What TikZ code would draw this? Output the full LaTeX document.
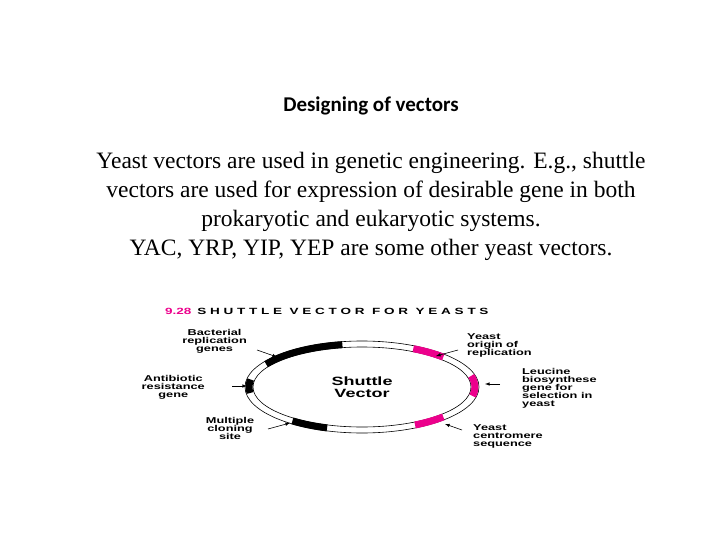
\documentclass[tikz,border=0pt]{standalone}
\usepackage{fontspec}
\setmainfont{Liberation Serif}
\newfontfamily\calfnt{Carlito}
\newfontfamily\widefnt[FakeStretch=1.5]{Liberation Sans}
\begin{document}
\begin{tikzpicture}[x=1pt,y=-1pt,
 lbl/.style={font=\widefnt\bfseries\fontsize{8.5}{8}\selectfont,inner sep=0pt,align=center},
 arr/.style={-latex,line width=0.6pt},
 seg/.style={line width=7pt,line cap=butt}]
\useasboundingbox (0,0) rectangle (720,540);
\node[font=\calfnt\bfseries\fontsize{21}{24}\selectfont] (h) at (371,106) {Designing of vectors};
\node[font=\fontsize{23.5}{29}\selectfont,align=center] (t) at (371,206) {Yeast vectors are used in genetic engineering. E.g., shuttle\\vectors are used for expression of desirable gene in both\\prokaryotic and eukaryotic systems.\\YAC, YRP, YIP, YEP are some other yeast vectors.};
\node[font=\widefnt\bfseries\fontsize{9}{9}\selectfont,anchor=west,inner sep=0pt] (ti) at (165,311) {\textcolor{magenta}{9.28}\hspace{6pt}S H U T T L E\ \ V E C T O R\ \ F O R\ \ Y E A S T S};
\coordinate (c) at (362,387);
\draw[line width=0.6pt] (c) ellipse[x radius=117,y radius=46];
\draw[line width=0.6pt] (c) ellipse[x radius=109,y radius=40];
\draw[seg] (c) ++(-100:113 and 43) arc[start angle=-100,end angle=-148,x radius=113,y radius=43];
\draw[seg] (c) ++(172:113 and 43) arc[start angle=172,end angle=190,x radius=113,y radius=43];
\draw[seg] (c) ++(128:113 and 43) arc[start angle=128,end angle=108,x radius=113,y radius=43];
\draw[seg,magenta] (c) ++(-44:113 and 43) arc[start angle=-44,end angle=-63,x radius=113,y radius=43];
\draw[seg,magenta] (c) ++(-15:113 and 43) arc[start angle=-15,end angle=12,x radius=113,y radius=43];
\draw[seg,magenta] (c) ++(44:113 and 43) arc[start angle=44,end angle=62,x radius=113,y radius=43];
\node[font=\widefnt\bfseries\fontsize{12}{12}\selectfont,align=center] (sv) at (c) {Shuttle\\Vector};
\node[lbl,anchor=east] (l1) at (247,341) {Bacterial\\replication\\genes};
\node[lbl,anchor=east] (l2) at (205,387) {Antibiotic\\resistance\\gene};
\node[lbl] (l3) at (230,428) {Multiple\\cloning\\site};
\node[lbl,anchor=west,align=left] (r1) at (467,345) {Yeast\\origin of\\replication};
\node[lbl,anchor=west,align=left] (r2) at (522,388) {Leucine\\biosynthese\\gene for\\selection in\\yeast};
\node[lbl,anchor=west,align=left] (r3) at (473,436) {Yeast\\centromere\\sequence};
\coordinate (a1) at (277,357); \coordinate (a2) at (247,386); \coordinate (a3) at (290,423);
\coordinate (b1) at (436,356); \coordinate (b2) at (485,384); \coordinate (b3) at (445,424);
\draw[arr] (257,350) -- (a1);
\draw[arr] (232,386) -- (a2);
\draw[arr] (268,429) -- (a3);
\draw[arr] (458,350) -- (b1);
\draw[arr] (500,384) -- (b2);
\draw[arr] (462,430) -- (b3);
\end{tikzpicture}
\end{document}
